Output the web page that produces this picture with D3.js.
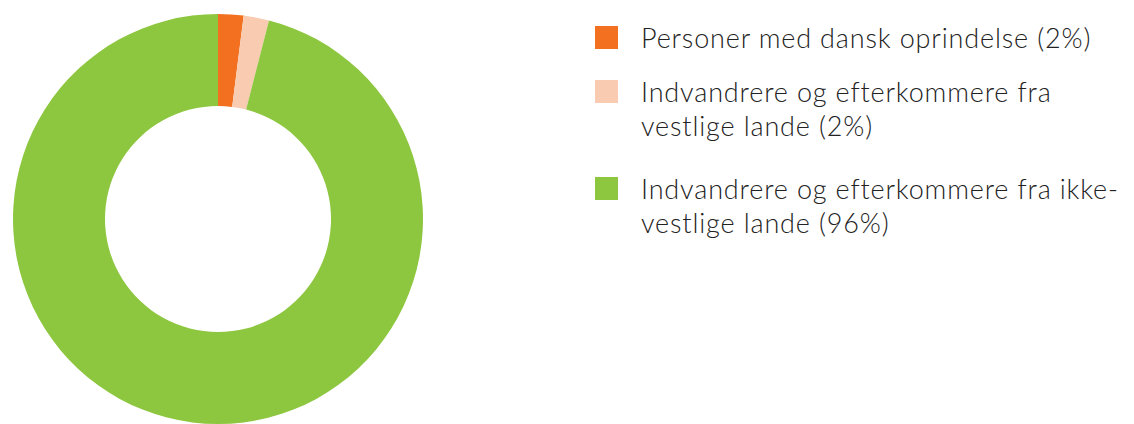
<!DOCTYPE html>
<html>
<head>
<meta charset="utf-8">
<script src="https://cdn.jsdelivr.net/npm/d3@7"></script>
<style>
  body { margin: 0; background: #fff; }
  svg { display: block; }
  .legend-text { font-family: Lato, "Open Sans", sans-serif; font-size: 27px; font-weight: 300; letter-spacing: 0.85px; fill: #222; }
</style>
</head>
<body>
<svg id="chart" width="1134" height="424"></svg>
<script>
let categories = ["Personer med dansk oprindelse", "Indvandrere og efterkommere fra vestlige lande", "Indvandrere og efterkommere fra ikke-vestlige lande"]
let shares = [2, 2, 96]
let colors = ["#f37021", "#f9ccb1", "#8dc63f"]
// legend labels as they wrap in the original
let legendLines = [
    ["Personer med dansk oprindelse (2%)"],
    ["Indvandrere og efterkommere fra", "vestlige lande (2%)"],
    ["Indvandrere og efterkommere fra ikke-", "vestlige lande (96%)"]
]

let svg = d3.select("#chart")

let drawDonut = () => {
    let pie = d3.pie().sort(null).value((d) => d)
    let arc = d3.arc().innerRadius(113).outerRadius(205)

    let g = svg.append('g')
               .attr('transform', 'translate(218, 219)')

    g.selectAll('path')
     .data(pie(shares))
     .enter()
     .append('path')
     .attr('d', arc)
     .attr('fill', (d, i) => colors[i])
}

let drawLegend = () => {
    let itemY = [26, 80, 177]   // top of each swatch
    let legend = svg.append('g')

    let item = legend.selectAll('g')
                     .data(categories)
                     .enter()
                     .append('g')
                     .attr('transform', (d, i) => `translate(595, ${itemY[i]})`)

    item.append('rect')
        .attr('width', 23)
        .attr('height', 23)
        .attr('fill', (d, i) => colors[i])

    item.append('text')
        .attr('class', 'legend-text')
        .attr('x', 46)
        .attr('y', 21.5)
        .selectAll('tspan')
        .data((d, i) => legendLines[i])
        .enter()
        .append('tspan')
        .attr('x', 46)
        .attr('dy', (d, i) => i === 0 ? 0 : 34.5)
        .text((d) => d)
}

drawDonut()
drawLegend()
</script>
</body>
</html>
